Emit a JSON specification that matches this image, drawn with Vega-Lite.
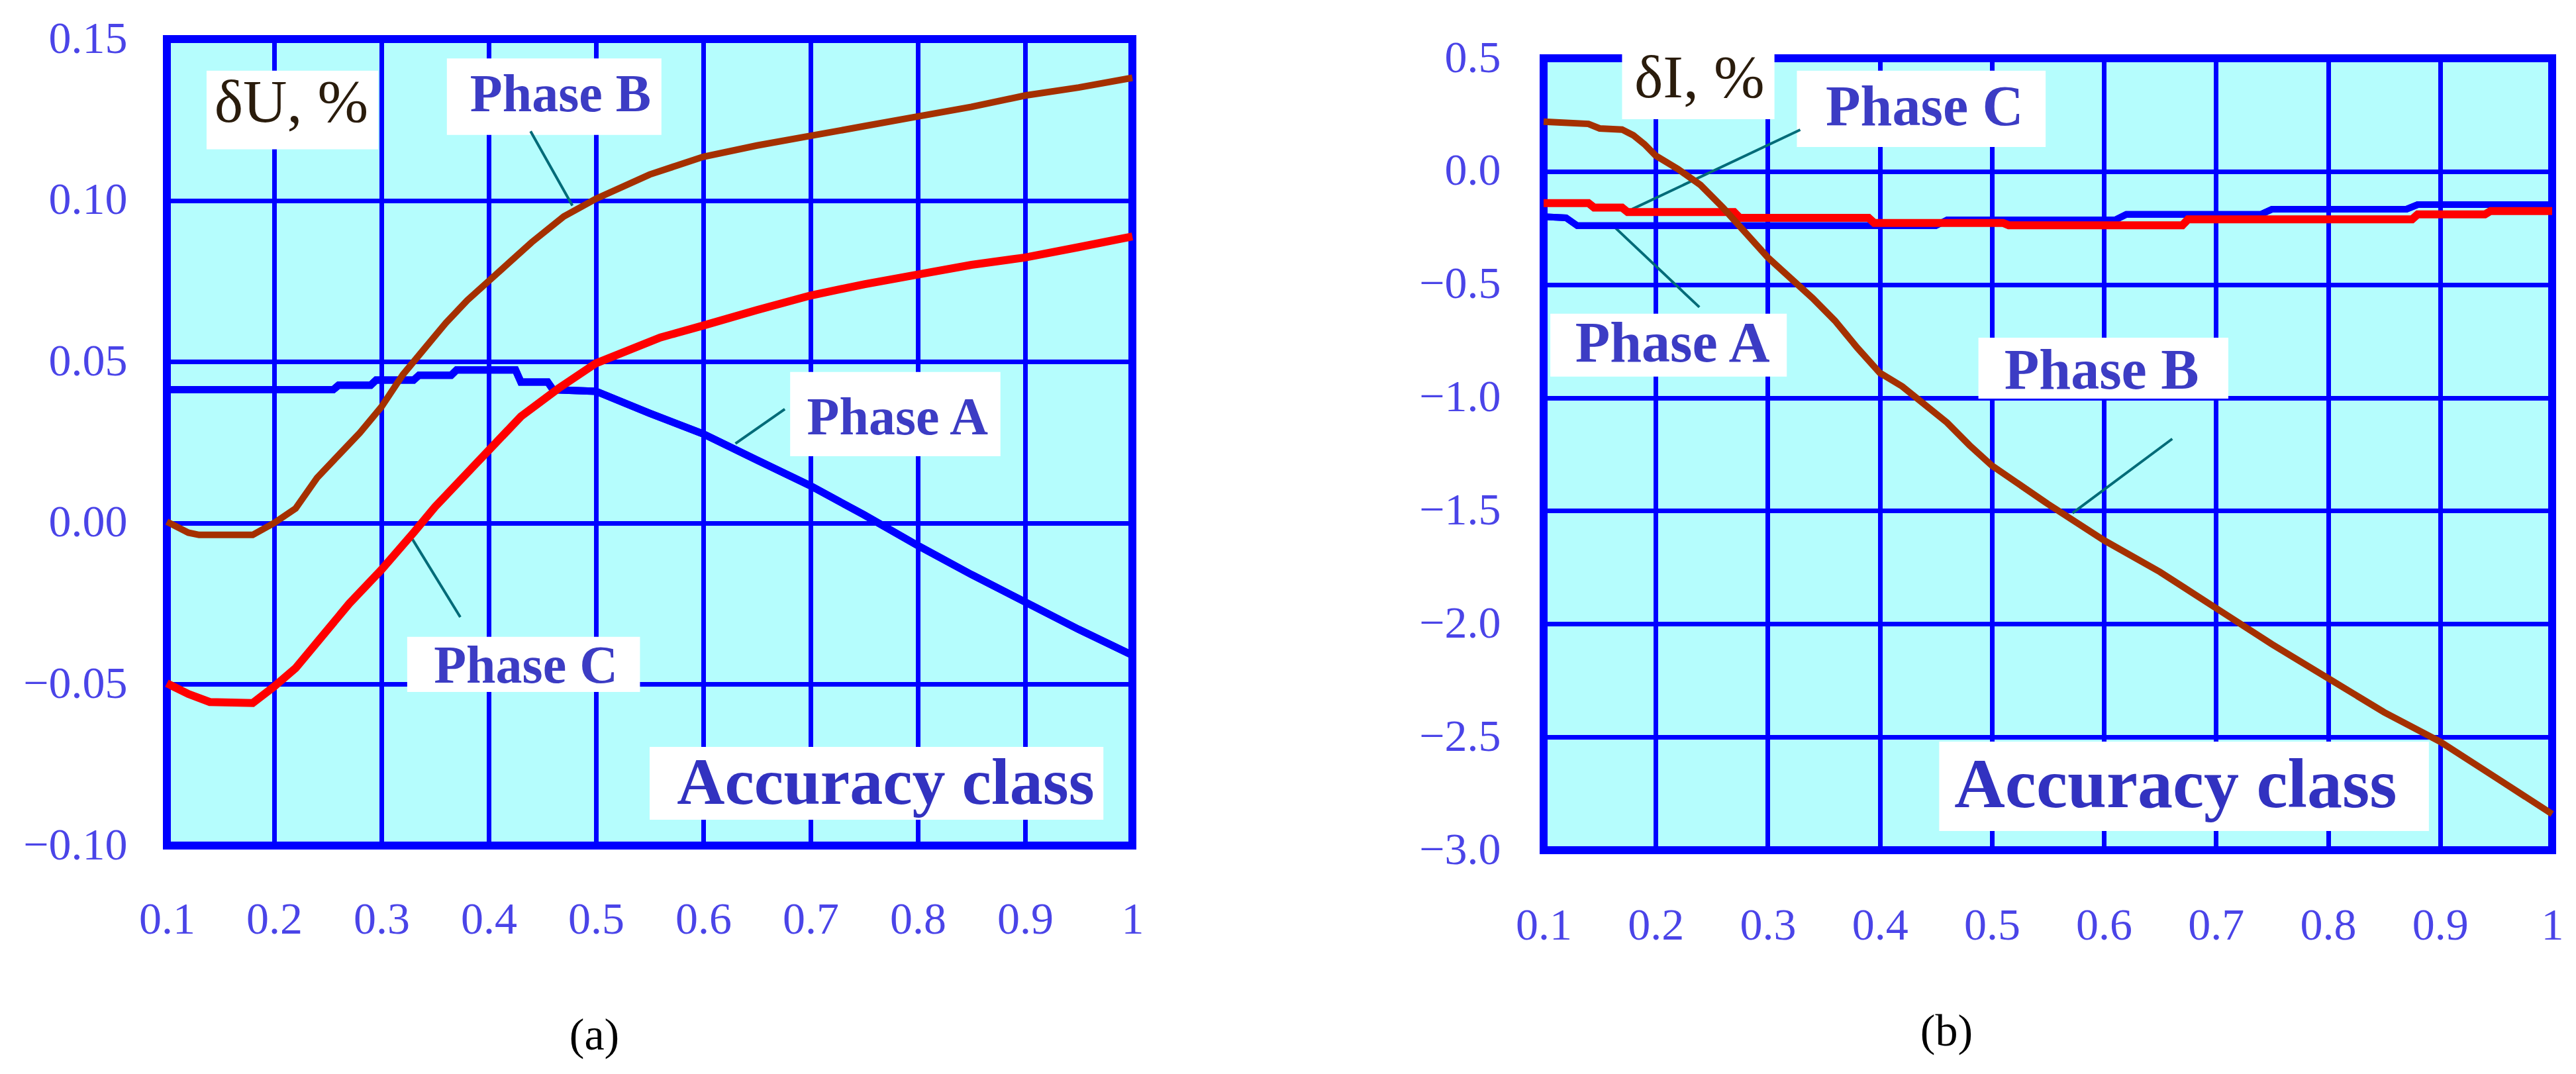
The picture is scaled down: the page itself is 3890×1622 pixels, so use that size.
{
"$schema": "https://vega.github.io/schema/vega-lite/v6.json",
"background": "white",
"padding": {"left": 28, "top": 19, "right": 0, "bottom": 0},
"spacing": 396,
"datasets": {
"voltage": [
{"phase":"A","x":0.10,"y":0.0413},{"phase":"A","x":0.255,"y":0.0413},{"phase":"A","x":0.26,"y":0.0427},{"phase":"A","x":0.29,"y":0.0427},{"phase":"A","x":0.295,"y":0.0443},{"phase":"A","x":0.33,"y":0.0443},{"phase":"A","x":0.335,"y":0.0458},{"phase":"A","x":0.365,"y":0.0458},{"phase":"A","x":0.37,"y":0.0474},{"phase":"A","x":0.425,"y":0.0474},{"phase":"A","x":0.43,"y":0.0437},{"phase":"A","x":0.455,"y":0.0437},{"phase":"A","x":0.46,"y":0.0413},{"phase":"A","x":0.50,"y":0.0408},{"phase":"A","x":0.55,"y":0.034},{"phase":"A","x":0.60,"y":0.0276},{"phase":"A","x":0.65,"y":0.0195},{"phase":"A","x":0.70,"y":0.0115},{"phase":"A","x":0.75,"y":0.0025},{"phase":"A","x":0.80,"y":-0.007},{"phase":"A","x":0.85,"y":-0.016},{"phase":"A","x":0.90,"y":-0.0245},{"phase":"A","x":0.95,"y":-0.033},{"phase":"A","x":1.00,"y":-0.041},
{"phase":"B","x":0.10,"y":0.0004},{"phase":"B","x":0.12,"y":-0.003},{"phase":"B","x":0.13,"y":-0.0037},{"phase":"B","x":0.18,"y":-0.0037},{"phase":"B","x":0.20,"y":0.0},{"phase":"B","x":0.22,"y":0.0045},{"phase":"B","x":0.24,"y":0.014},{"phase":"B","x":0.26,"y":0.021},{"phase":"B","x":0.28,"y":0.028},{"phase":"B","x":0.30,"y":0.036},{"phase":"B","x":0.32,"y":0.046},{"phase":"B","x":0.34,"y":0.054},{"phase":"B","x":0.36,"y":0.062},{"phase":"B","x":0.38,"y":0.069},{"phase":"B","x":0.40,"y":0.075},{"phase":"B","x":0.44,"y":0.087},{"phase":"B","x":0.47,"y":0.095},{"phase":"B","x":0.50,"y":0.1005},{"phase":"B","x":0.55,"y":0.108},{"phase":"B","x":0.60,"y":0.1135},{"phase":"B","x":0.65,"y":0.117},{"phase":"B","x":0.70,"y":0.120},{"phase":"B","x":0.75,"y":0.123},{"phase":"B","x":0.80,"y":0.126},{"phase":"B","x":0.85,"y":0.129},{"phase":"B","x":0.90,"y":0.1325},{"phase":"B","x":0.95,"y":0.135},{"phase":"B","x":1.00,"y":0.138},
{"phase":"C","x":0.10,"y":-0.0497},{"phase":"C","x":0.12,"y":-0.053},{"phase":"C","x":0.14,"y":-0.0555},{"phase":"C","x":0.18,"y":-0.0558},{"phase":"C","x":0.20,"y":-0.0507},{"phase":"C","x":0.22,"y":-0.045},{"phase":"C","x":0.24,"y":-0.037},{"phase":"C","x":0.27,"y":-0.025},{"phase":"C","x":0.30,"y":-0.0145},{"phase":"C","x":0.33,"y":-0.003},{"phase":"C","x":0.35,"y":0.005},{"phase":"C","x":0.39,"y":0.019},{"phase":"C","x":0.40,"y":0.0225},{"phase":"C","x":0.43,"y":0.033},{"phase":"C","x":0.465,"y":0.0417},{"phase":"C","x":0.50,"y":0.0495},{"phase":"C","x":0.56,"y":0.0575},{"phase":"C","x":0.60,"y":0.0612},{"phase":"C","x":0.65,"y":0.066},{"phase":"C","x":0.70,"y":0.0705},{"phase":"C","x":0.75,"y":0.074},{"phase":"C","x":0.80,"y":0.077},{"phase":"C","x":0.85,"y":0.080},{"phase":"C","x":0.90,"y":0.0823},{"phase":"C","x":0.95,"y":0.0855},{"phase":"C","x":1.00,"y":0.0888}
],
"current": [
{"phase":"A","x":0.10,"y":-0.20},{"phase":"A","x":0.12,"y":-0.205},{"phase":"A","x":0.13,"y":-0.24},{"phase":"A","x":0.45,"y":-0.24},{"phase":"A","x":0.46,"y":-0.215},{"phase":"A","x":0.61,"y":-0.215},{"phase":"A","x":0.62,"y":-0.19},{"phase":"A","x":0.74,"y":-0.19},{"phase":"A","x":0.75,"y":-0.167},{"phase":"A","x":0.87,"y":-0.167},{"phase":"A","x":0.88,"y":-0.147},{"phase":"A","x":1.00,"y":-0.147},
{"phase":"B","x":0.10,"y":0.22},{"phase":"B","x":0.14,"y":0.21},{"phase":"B","x":0.15,"y":0.19},{"phase":"B","x":0.17,"y":0.185},{"phase":"B","x":0.18,"y":0.16},{"phase":"B","x":0.19,"y":0.12},{"phase":"B","x":0.20,"y":0.07},{"phase":"B","x":0.22,"y":0.01},{"phase":"B","x":0.24,"y":-0.06},{"phase":"B","x":0.26,"y":-0.16},{"phase":"B","x":0.28,"y":-0.27},{"phase":"B","x":0.30,"y":-0.38},{"phase":"B","x":0.32,"y":-0.47},{"phase":"B","x":0.34,"y":-0.56},{"phase":"B","x":0.36,"y":-0.66},{"phase":"B","x":0.38,"y":-0.78},{"phase":"B","x":0.40,"y":-0.89},{"phase":"B","x":0.42,"y":-0.95},{"phase":"B","x":0.44,"y":-1.03},{"phase":"B","x":0.46,"y":-1.11},{"phase":"B","x":0.48,"y":-1.21},{"phase":"B","x":0.50,"y":-1.30},{"phase":"B","x":0.55,"y":-1.47},{"phase":"B","x":0.60,"y":-1.63},{"phase":"B","x":0.65,"y":-1.77},{"phase":"B","x":0.70,"y":-1.93},{"phase":"B","x":0.75,"y":-2.09},{"phase":"B","x":0.80,"y":-2.24},{"phase":"B","x":0.85,"y":-2.39},{"phase":"B","x":0.90,"y":-2.52},{"phase":"B","x":0.95,"y":-2.68},{"phase":"B","x":1.00,"y":-2.84},
{"phase":"C","x":0.10,"y":-0.14},{"phase":"C","x":0.14,"y":-0.14},{"phase":"C","x":0.145,"y":-0.16},{"phase":"C","x":0.17,"y":-0.16},{"phase":"C","x":0.175,"y":-0.18},{"phase":"C","x":0.27,"y":-0.18},{"phase":"C","x":0.275,"y":-0.205},{"phase":"C","x":0.39,"y":-0.205},{"phase":"C","x":0.395,"y":-0.228},{"phase":"C","x":0.51,"y":-0.228},{"phase":"C","x":0.515,"y":-0.238},{"phase":"C","x":0.67,"y":-0.238},{"phase":"C","x":0.675,"y":-0.212},{"phase":"C","x":0.875,"y":-0.212},{"phase":"C","x":0.88,"y":-0.19},{"phase":"C","x":0.94,"y":-0.19},{"phase":"C","x":0.945,"y":-0.175},{"phase":"C","x":1.00,"y":-0.175}
],
"voltageBoxes": [
{"x":0.137,"x2":0.297,"y":0.1158,"y2":0.1402},
{"x":0.361,"x2":0.561,"y":0.1203,"y2":0.144},
{"x":0.681,"x2":0.877,"y":0.0207,"y2":0.0468},
{"x":0.324,"x2":0.541,"y":-0.0524,"y2":-0.0353},
{"x":0.55,"x2":0.973,"y":-0.092,"y2":-0.0694}
],
"currentBoxes": [
{"x":0.170,"x2":0.306,"y":0.231,"y2":0.56},
{"x":0.326,"x2":0.548,"y":0.108,"y2":0.445},
{"x":0.106,"x2":0.317,"y":-0.907,"y2":-0.629},
{"x":0.488,"x2":0.711,"y":-1.004,"y2":-0.735},
{"x":0.453,"x2":0.89,"y":-2.915,"y2":-2.52}
],
"voltageLabels": [
{"kind":"quantity","text":"δU, %","x":0.216,"y":0.130},
{"kind":"phase","text":"Phase B","x":0.467,"y":0.1325},
{"kind":"phase","text":"Phase A","x":0.781,"y":0.0324},
{"kind":"phase","text":"Phase C","x":0.4346,"y":-0.0445},
{"kind":"axis","text":"Accuracy class","x":0.770,"y":-0.081}
],
"currentLabels": [
{"kind":"quantity","text":"δI, %","x":0.239,"y":0.41},
{"kind":"phase","text":"Phase C","x":0.44,"y":0.281},
{"kind":"phase","text":"Phase A","x":0.215,"y":-0.764},
{"kind":"phase","text":"Phase B","x":0.598,"y":-0.884},
{"kind":"axis","text":"Accuracy class","x":0.664,"y":-2.716}
],
"voltageLeaders": [
{"x":0.439,"y":0.1214,"x2":0.478,"y2":0.0984},
{"x":0.676,"y":0.0353,"x2":0.630,"y2":0.0246},
{"x":0.3735,"y":-0.0292,"x2":0.329,"y2":-0.0051}
],
"currentLeaders": [
{"x":0.329,"y":0.184,"x2":0.179,"y2":-0.167},
{"x":0.239,"y":-0.60,"x2":0.162,"y2":-0.24},
{"x":0.661,"y":-1.182,"x2":0.572,"y2":-1.51}
]
},
"hconcat": [
{
"width": 1458, "height": 1218,
"view": {"fill": "#b5fdfd", "stroke": "#0000ff", "strokeWidth": 12},
"layer": [
{"data":{"name":"voltage"},"transform":[{"filter":"datum.phase == 'A'"}],
 "mark":{"type":"line","color":"#0000ff","strokeWidth":11},
 "encoding":{
  "x":{"field":"x","type":"quantitative","scale":{"domain":[0.1,1],"nice":false,"zero":false},
   "axis":{"orient":"bottom","values":[0.1,0.2,0.3,0.4,0.5,0.6,0.7,0.8,0.9,1],"labelExpr":"datum.value == 1 ? '1' : format(datum.value, '.1f')","grid":true,"gridColor":"#0000ff","gridWidth":7,"gridOpacity":1,"domain":false,"ticks":false,"labelFont":"Liberation Serif","labelFontSize":68,"labelColor":"#4a44e8","labelPadding":78,"labelFlush":false,"labelOverlap":false,"title":"(a)","titleFont":"Liberation Serif","titleFontSize":68,"titleFontWeight":"normal","titleColor":"#000000","titleX":645,"titleY":287,"titleBaseline":"middle","titleAlign":"center"}},
  "y":{"field":"y","type":"quantitative","scale":{"domain":[-0.1,0.15],"nice":false,"zero":false},
   "axis":{"orient":"left","values":[-0.1,-0.05,0,0.05,0.1,0.15],"format":".2f","grid":true,"gridColor":"#0000ff","gridWidth":7,"gridOpacity":1,"domain":false,"ticks":false,"labelFont":"Liberation Serif","labelFontSize":68,"labelColor":"#4a44e8","labelPadding":60,"labelFlush":false,"labelOverlap":false,"title":null}}
 }},
{"mark":{"type":"rule","color":"#0000ff","strokeWidth":11},
 "encoding":{"y":{"datum":0,"type":"quantitative","scale":{"domain":[-0.1,0.15],"nice":false,"zero":false}}}},
{"mark":{"type":"rule","color":"#000000","strokeWidth":12},
 "encoding":{"x":{"datum":0.1,"type":"quantitative","scale":{"domain":[0.1,1],"nice":false,"zero":false}}}},
{"data":{"name":"voltageBoxes"},"mark":{"type":"rect","color":"#ffffff"},
 "encoding":{
  "x":{"field":"x","type":"quantitative","scale":{"domain":[0.1,1],"nice":false,"zero":false}},"x2":{"field":"x2"},
  "y":{"field":"y","type":"quantitative","scale":{"domain":[-0.1,0.15],"nice":false,"zero":false}},"y2":{"field":"y2"}}},
{"data":{"name":"voltageLeaders"},"mark":{"type":"rule","color":"#006b78","strokeWidth":4},
 "encoding":{
  "x":{"field":"x","type":"quantitative","scale":{"domain":[0.1,1],"nice":false,"zero":false}},"x2":{"field":"x2"},
  "y":{"field":"y","type":"quantitative","scale":{"domain":[-0.1,0.15],"nice":false,"zero":false}},"y2":{"field":"y2"}}},
{"data":{"name":"voltage"},"transform":[{"filter":"datum.phase == 'A'"}],
 "mark":{"type":"line","color":"#0000ff","strokeWidth":11},
 "encoding":{
  "x":{"field":"x","type":"quantitative","scale":{"domain":[0.1,1],"nice":false,"zero":false}},
  "y":{"field":"y","type":"quantitative","scale":{"domain":[-0.1,0.15],"nice":false,"zero":false}}}},
{"data":{"name":"voltage"},"transform":[{"filter":"datum.phase == 'C'"}],
 "mark":{"type":"line","color":"#ff0000","strokeWidth":12},
 "encoding":{
  "x":{"field":"x","type":"quantitative","scale":{"domain":[0.1,1],"nice":false,"zero":false}},
  "y":{"field":"y","type":"quantitative","scale":{"domain":[-0.1,0.15],"nice":false,"zero":false}}}},
{"data":{"name":"voltage"},"transform":[{"filter":"datum.phase == 'B'"}],
 "mark":{"type":"line","color":"#a53000","strokeWidth":10},
 "encoding":{
  "x":{"field":"x","type":"quantitative","scale":{"domain":[0.1,1],"nice":false,"zero":false}},
  "y":{"field":"y","type":"quantitative","scale":{"domain":[-0.1,0.15],"nice":false,"zero":false}}}},
{"data":{"name":"voltageLabels"},"transform":[{"filter":"datum.kind == 'phase'"}],
 "mark":{"type":"text","font":"Liberation Serif","fontWeight":"bold","fontSize":80,"color":"#3c3cc4","align":"center","baseline":"middle"},
 "encoding":{
  "x":{"field":"x","type":"quantitative","scale":{"domain":[0.1,1],"nice":false,"zero":false}},
  "y":{"field":"y","type":"quantitative","scale":{"domain":[-0.1,0.15],"nice":false,"zero":false}},
  "text":{"field":"text"}}},
{"data":{"name":"voltageLabels"},"transform":[{"filter":"datum.kind == 'axis'"}],
 "mark":{"type":"text","font":"Liberation Serif","fontWeight":"bold","fontSize":100,"color":"#3232c0","align":"center","baseline":"middle"},
 "encoding":{
  "x":{"field":"x","type":"quantitative","scale":{"domain":[0.1,1],"nice":false,"zero":false}},
  "y":{"field":"y","type":"quantitative","scale":{"domain":[-0.1,0.15],"nice":false,"zero":false}},
  "text":{"field":"text"}}},
{"data":{"name":"voltageLabels"},"transform":[{"filter":"datum.kind == 'quantity'"}],
 "mark":{"type":"text","font":"Liberation Serif","fontSize":92,"color":"#2a1c0c","align":"center","baseline":"middle"},
 "encoding":{
  "x":{"field":"x","type":"quantitative","scale":{"domain":[0.1,1],"nice":false,"zero":false}},
  "y":{"field":"y","type":"quantitative","scale":{"domain":[-0.1,0.15],"nice":false,"zero":false}},
  "text":{"field":"text"}}}
]
},
{
"spacing": -12,
"vconcat": [
{"width": 1, "height": 1, "view": {"stroke": null, "fill": null},
 "data": {"values": [{}]},
 "mark": {"type": "rule", "opacity": 0},
 "encoding": {}},
{
"width": 1523, "height": 1196,
"view": {"fill": "#b5fdfd", "stroke": "#0000ff", "strokeWidth": 12},
"layer": [
{"data":{"name":"current"},"transform":[{"filter":"datum.phase == 'A'"}],
 "mark":{"type":"line","color":"#0000ff","strokeWidth":10},
 "encoding":{
  "x":{"field":"x","type":"quantitative","scale":{"domain":[0.1,1],"nice":false,"zero":false},
   "axis":{"orient":"bottom","values":[0.1,0.2,0.3,0.4,0.5,0.6,0.7,0.8,0.9,1],"labelExpr":"datum.value == 1 ? '1' : format(datum.value, '.1f')","grid":true,"gridColor":"#0000ff","gridWidth":7,"gridOpacity":1,"domain":false,"ticks":false,"labelFont":"Liberation Serif","labelFontSize":68,"labelColor":"#4a44e8","labelPadding":80,"labelFlush":false,"labelOverlap":false,"title":"(b)","titleFont":"Liberation Serif","titleFontSize":68,"titleFontWeight":"normal","titleColor":"#000000","titleX":608,"titleY":274,"titleBaseline":"middle","titleAlign":"center"}},
  "y":{"field":"y","type":"quantitative","scale":{"domain":[-3,0.5],"nice":false,"zero":false},
   "axis":{"orient":"left","values":[-3,-2.5,-2,-1.5,-1,-0.5,0,0.5],"format":".1f","grid":true,"gridColor":"#0000ff","gridWidth":7,"gridOpacity":1,"domain":false,"ticks":false,"labelFont":"Liberation Serif","labelFontSize":68,"labelColor":"#4a44e8","labelPadding":65,"labelFlush":false,"labelOverlap":false,"title":null}}
 }},
{"mark":{"type":"rule","color":"#0000ff","strokeWidth":13},
 "encoding":{"y":{"datum":0,"type":"quantitative","scale":{"domain":[-3,0.5],"nice":false,"zero":false}}}},
{"mark":{"type":"rule","color":"#0000ff","strokeWidth":16},
 "encoding":{"x":{"datum":0.1,"type":"quantitative","scale":{"domain":[0.1,1],"nice":false,"zero":false}}}},
{"data":{"name":"currentBoxes"},"mark":{"type":"rect","color":"#ffffff"},
 "encoding":{
  "x":{"field":"x","type":"quantitative","scale":{"domain":[0.1,1],"nice":false,"zero":false}},"x2":{"field":"x2"},
  "y":{"field":"y","type":"quantitative","scale":{"domain":[-3,0.5],"nice":false,"zero":false}},"y2":{"field":"y2"}}},
{"data":{"name":"currentLeaders"},"mark":{"type":"rule","color":"#006b78","strokeWidth":4},
 "encoding":{
  "x":{"field":"x","type":"quantitative","scale":{"domain":[0.1,1],"nice":false,"zero":false}},"x2":{"field":"x2"},
  "y":{"field":"y","type":"quantitative","scale":{"domain":[-3,0.5],"nice":false,"zero":false}},"y2":{"field":"y2"}}},
{"data":{"name":"current"},"transform":[{"filter":"datum.phase == 'A'"}],
 "mark":{"type":"line","color":"#0000ff","strokeWidth":10},
 "encoding":{
  "x":{"field":"x","type":"quantitative","scale":{"domain":[0.1,1],"nice":false,"zero":false}},
  "y":{"field":"y","type":"quantitative","scale":{"domain":[-3,0.5],"nice":false,"zero":false}}}},
{"data":{"name":"current"},"transform":[{"filter":"datum.phase == 'C'"}],
 "mark":{"type":"line","color":"#ff0000","strokeWidth":12},
 "encoding":{
  "x":{"field":"x","type":"quantitative","scale":{"domain":[0.1,1],"nice":false,"zero":false}},
  "y":{"field":"y","type":"quantitative","scale":{"domain":[-3,0.5],"nice":false,"zero":false}}}},
{"data":{"name":"current"},"transform":[{"filter":"datum.phase == 'B'"}],
 "mark":{"type":"line","color":"#a53000","strokeWidth":10},
 "encoding":{
  "x":{"field":"x","type":"quantitative","scale":{"domain":[0.1,1],"nice":false,"zero":false}},
  "y":{"field":"y","type":"quantitative","scale":{"domain":[-3,0.5],"nice":false,"zero":false}}}},
{"data":{"name":"currentLabels"},"transform":[{"filter":"datum.kind == 'phase'"}],
 "mark":{"type":"text","font":"Liberation Serif","fontWeight":"bold","fontSize":86,"color":"#3c3cc4","align":"center","baseline":"middle"},
 "encoding":{
  "x":{"field":"x","type":"quantitative","scale":{"domain":[0.1,1],"nice":false,"zero":false}},
  "y":{"field":"y","type":"quantitative","scale":{"domain":[-3,0.5],"nice":false,"zero":false}},
  "text":{"field":"text"}}},
{"data":{"name":"currentLabels"},"transform":[{"filter":"datum.kind == 'axis'"}],
 "mark":{"type":"text","font":"Liberation Serif","fontWeight":"bold","fontSize":106,"color":"#3232c0","align":"center","baseline":"middle"},
 "encoding":{
  "x":{"field":"x","type":"quantitative","scale":{"domain":[0.1,1],"nice":false,"zero":false}},
  "y":{"field":"y","type":"quantitative","scale":{"domain":[-3,0.5],"nice":false,"zero":false}},
  "text":{"field":"text"}}},
{"data":{"name":"currentLabels"},"transform":[{"filter":"datum.kind == 'quantity'"}],
 "mark":{"type":"text","font":"Liberation Serif","fontSize":92,"color":"#2a1c0c","align":"center","baseline":"middle"},
 "encoding":{
  "x":{"field":"x","type":"quantitative","scale":{"domain":[0.1,1],"nice":false,"zero":false}},
  "y":{"field":"y","type":"quantitative","scale":{"domain":[-3,0.5],"nice":false,"zero":false}},
  "text":{"field":"text"}}}
]
}
]
}
]
}
